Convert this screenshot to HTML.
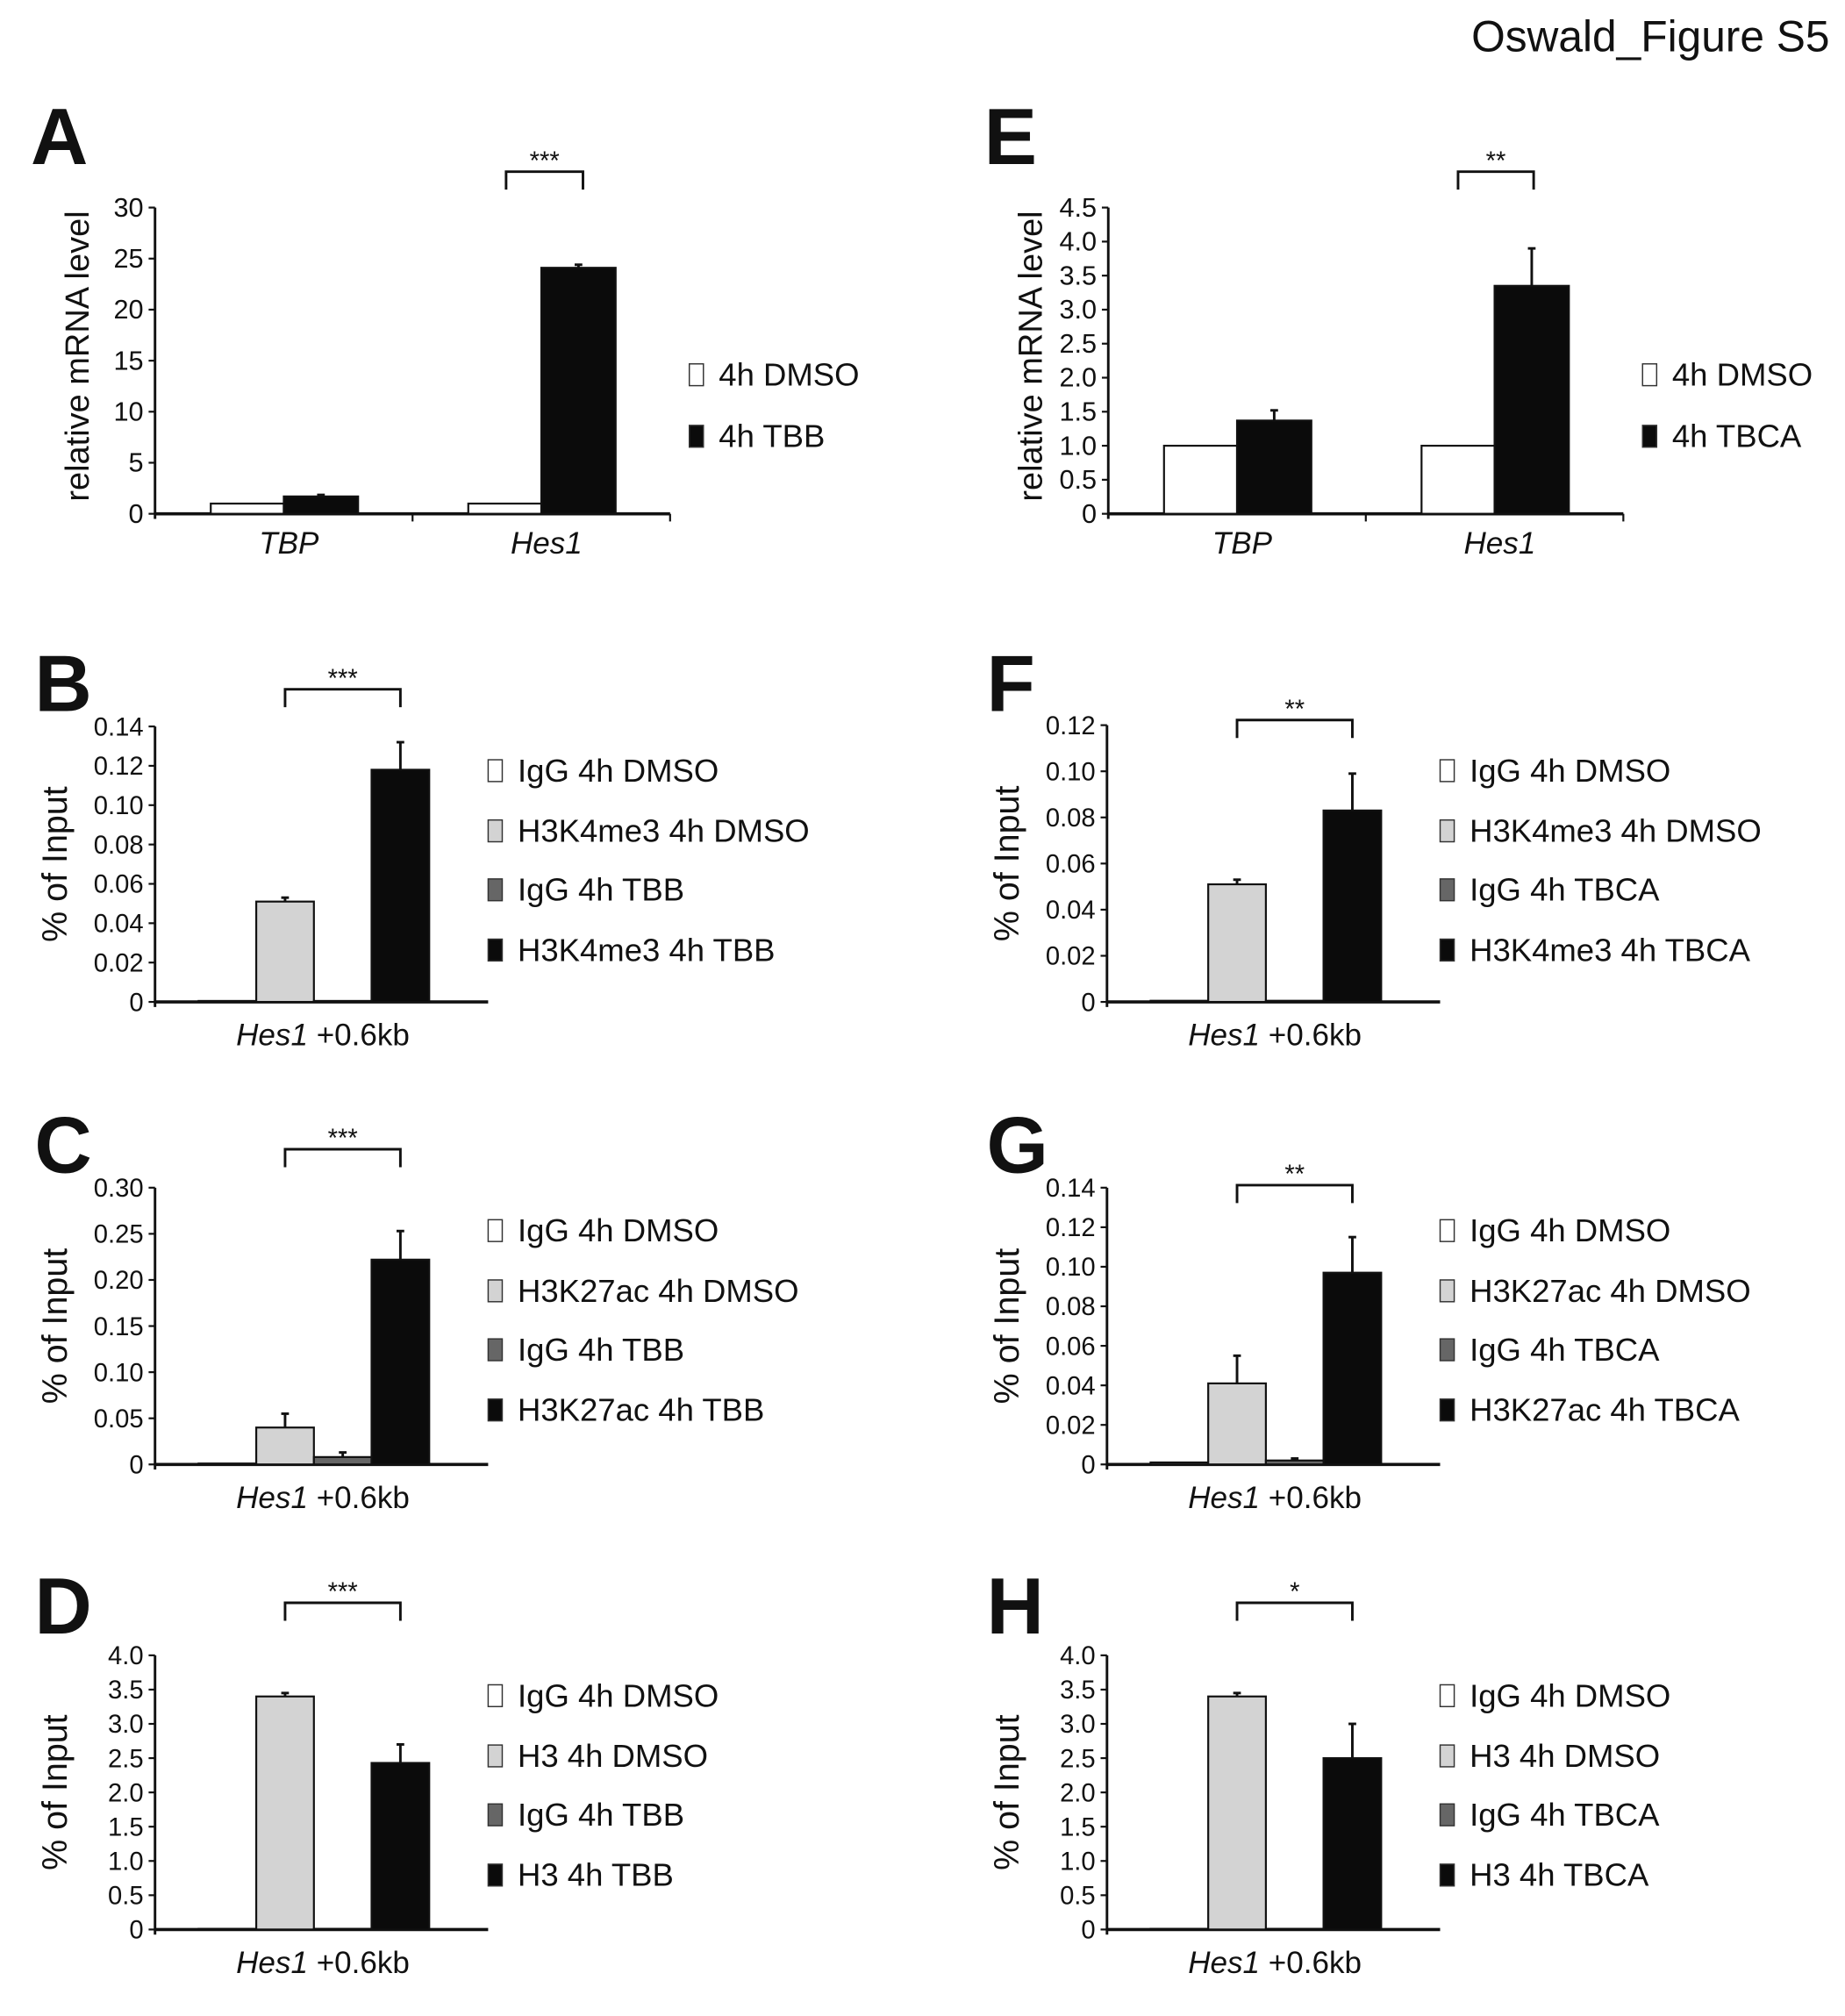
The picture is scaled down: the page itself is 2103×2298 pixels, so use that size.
<!DOCTYPE html>
<html><head><meta charset="utf-8"><style>
html,body{margin:0;padding:0;background:#fff}
svg{display:block}
text{font-family:"Liberation Sans Narrow","Liberation Sans",sans-serif;fill:#111}
</style></head><body>
<svg id="fig" width="2103" height="2298" viewBox="0 0 1440 1573.5" xmlns="http://www.w3.org/2000/svg">
<text x="1428" y="40" text-anchor="end" font-size="34" style="font-family:'Liberation Sans',sans-serif">Oswald_Figure S5</text>
</svg>
<script>
// ---- data arrays ----
const aCategories = ["TBP","Hes1"];
const aDmso = [1.0, 1.0];
const aTreat = [1.7, 24.1];
const aTreatErr = [0.15, 0.3];
const aTicks = ["0","5","10","15","20","25","30"];

const eCategories = ["TBP","Hes1"];
const eDmso = [1.0, 1.0];
const eTreat = [1.37, 3.35];
const eTreatErr = [0.15, 0.55];
const eTicks = ["0","0.5","1.0","1.5","2.0","2.5","3.0","3.5","4.0","4.5"];

const bValues = [0.0005, 0.051, 0.0005, 0.118];
const bErr = [0, 0.002, 0, 0.014];
const bTicks = ["0","0.02","0.04","0.06","0.08","0.10","0.12","0.14"];
const bLegend = ["IgG 4h DMSO","H3K4me3 4h DMSO","IgG 4h TBB","H3K4me3 4h TBB"];

const fValues = [0.0005, 0.051, 0.0005, 0.083];
const fErr = [0, 0.002, 0, 0.016];
const fTicks = ["0","0.02","0.04","0.06","0.08","0.10","0.12"];
const fLegend = ["IgG 4h DMSO","H3K4me3 4h DMSO","IgG 4h TBCA","H3K4me3 4h TBCA"];

const cValues = [0.001, 0.040, 0.008, 0.222];
const cErr = [0, 0.015, 0.005, 0.031];
const cTicks = ["0","0.05","0.10","0.15","0.20","0.25","0.30"];
const cLegend = ["IgG 4h DMSO","H3K27ac 4h DMSO","IgG 4h TBB","H3K27ac 4h TBB"];

const gValues = [0.001, 0.041, 0.002, 0.097];
const gErr = [0, 0.014, 0.001, 0.018];
const gTicks = ["0","0.02","0.04","0.06","0.08","0.10","0.12","0.14"];
const gLegend = ["IgG 4h DMSO","H3K27ac 4h DMSO","IgG 4h TBCA","H3K27ac 4h TBCA"];

const dValues = [0.01, 3.40, 0.01, 2.43];
const dErr = [0, 0.05, 0, 0.27];
const dTicks = ["0","0.5","1.0","1.5","2.0","2.5","3.0","3.5","4.0"];
const dLegend = ["IgG 4h DMSO","H3 4h DMSO","IgG 4h TBB","H3 4h TBB"];

const hValues = [0.01, 3.40, 0.01, 2.50];
const hErr = [0, 0.05, 0, 0.50];
const hTicks = ["0","0.5","1.0","1.5","2.0","2.5","3.0","3.5","4.0"];
const hLegend = ["IgG 4h DMSO","H3 4h DMSO","IgG 4h TBCA","H3 4h TBCA"];

const fills = ["#ffffff","#d3d3d3","#666666","#0b0b0b"];
// ---- rendering ----
const svg = document.getElementById('fig');
const NS = "http://www.w3.org/2000/svg";
function mk(tag, attrs, parent){
  const e = document.createElementNS(NS, tag);
  for (const k in attrs) e.setAttribute(k, attrs[k]);
  (parent||svg).appendChild(e);
  return e;
}
function txt(s, attrs, parent){ const e = mk('text', attrs, parent); e.textContent = s; return e; }

function axes(g, x0, x1, yTop, yZero, ticks, fs){
  const max = parseFloat(ticks[ticks.length-1]);
  const y = v => yZero - v / max * (yZero - yTop);
  const ya = mk('line',{x1:x0,y1:yTop,x2:x0,y2:yZero+4,stroke:'#111','stroke-width':2},g);
  
  
  const xa = mk('line',{x1:x0,y1:yZero,x2:x1,y2:yZero,stroke:'#111','stroke-width':2.5},g);
  
  
  ticks.forEach(t=>{
    const v = parseFloat(t);
    mk('line',{x1:x0-5,y1:y(v),x2:x0,y2:y(v),stroke:'#111','stroke-width':1.5},g);
    const tl = txt(t,{x:x0-9,y:y(v)+7,'text-anchor':'end','font-size':fs},g);
    
    
  });
  return y;
}
function bar(g, xl, xr, y, yZero, v, err, fill){
  const r = mk('rect',{x:xl,y:y(v),width:xr-xl,height:Math.max(yZero-y(v),0.5),fill:fill,stroke:'#111','stroke-width':1.5},g);
  
  
  if (err>0){
    const xc=(xl+xr)/2;
    mk('line',{x1:xc,y1:y(v),x2:xc,y2:y(v+err),stroke:'#111','stroke-width':2},g);
    mk('line',{x1:xc-3,y1:y(v+err),x2:xc+3,y2:y(v+err),stroke:'#111','stroke-width':2},g);
  }
}
function bracket(g, xa, xb, yb, stars){
  const p = mk('path',{d:`M${xa} ${yb+14}V${yb}H${xb}V${yb+14}`,fill:'none',stroke:'#111','stroke-width':2},g);
  
  
  const s = txt(stars,{x:(xa+xb)/2,y:yb-2,'text-anchor':'middle','font-size':20},g);
  
  
}
function letter(ch, x, y){
  const t = txt(ch,{x:x,y:y,'font-size':62,'font-weight':'bold',style:"font-family:'Liberation Sans',sans-serif"});
  
  
}
function ytitle(g, s, x, yc, fs){
  const t = txt(s,{x:x,y:yc,'text-anchor':'middle','font-size':fs,transform:`rotate(-90 ${x} ${yc})`,style:"font-family:'Liberation Sans',sans-serif"},g);
  
  
}
function legend(g, labels, cols, x, ys){
  labels.forEach((l,i)=>{
    const le = mk('g',{},g);
    
    
    mk('rect',{x:x,y:ys[i]-17,width:11,height:17,fill:cols[i],stroke:'#333','stroke-width':1},le);
    txt(l,{x:x+23,y:ys[i],'font-size':25,style:"font-family:'Liberation Sans',sans-serif"},le);
  });
}
function xlabel(g, xc, yb){
  const t = mk('text',{x:xc,y:yb,'text-anchor':'middle','font-size':24,style:"font-family:'Liberation Sans',sans-serif"},g);
  
  
  const a = document.createElementNS(NS,'tspan'); a.setAttribute('font-style','italic'); a.textContent='Hes1'; t.appendChild(a);
  const b = document.createElementNS(NS,'tspan'); b.textContent=' +0.6kb'; t.appendChild(b);
}

// Panels A / E
function mrna(name, L, x0, cats, dm, tr, te, ticks, legendLabels, stars, brX){
  const g = mk('g',{});  
  const yTop=162, yZero=401, w=402;
  const y = axes(g, x0, x0+w, yTop, yZero, ticks, 21);
  mk('line',{x1:x0+w/2,y1:yZero,x2:x0+w/2,y2:yZero+6,stroke:'#111','stroke-width':1.5},g);
  mk('line',{x1:x0+w,y1:yZero,x2:x0+w,y2:yZero+6,stroke:'#111','stroke-width':1.5},g);
  cats.forEach((c,i)=>{
    const xc = x0 + w/4 + i*w/2;
    bar(g, xc-57, xc, y, yZero, dm[i], 0, '#fff');
    bar(g, xc, xc+58, y, yZero, tr[i], te[i], '#0b0b0b');
    const cl = txt(c,{x:xc+4,y:432,'text-anchor':'middle','font-size':24,'font-style':'italic',style:"font-family:'Liberation Sans',sans-serif"},g);
    
    
  });
  bracket(g, brX[0], brX[1], 134, stars);
  ytitle(g,'relative mRNA level', x0-52, 278, 26);
  legend(g, legendLabels, ['#fff','#0b0b0b'], x0+417, [301,349]);
  letter(L, x0-97, 128);
}
mrna('a','A',121,aCategories,aDmso,aTreat,aTreatErr,aTicks,['4h DMSO','4h TBB'],'***',[395,455]);
mrna('e','E',865,eCategories,eDmso,eTreat,eTreatErr,eTicks,['4h DMSO','4h TBCA'],'**',[1138,1197]);

// Panels B,C,D,F,G,H
function chip(name, L, x0, yTop, yZero, vals, errs, ticks, labels, stars, brY, legY0, letY){
  const g = mk('g',{});  
  const y = axes(g, x0, x0+260, yTop, yZero, ticks, 20);
  vals.forEach((v,i)=>{
    const xl = x0 + 34 + i*45;
    bar(g, xl, xl+45, y, yZero, v, errs[i], fills[i]);
  });
  const c1 = x0+34+45*1.5, c3 = x0+34+45*3.5;
  bracket(g, c1, c3, brY, stars);
  xlabel(g, x0+131, yZero+34);
  ytitle(g,'% of Input', x0-69, (yTop+yZero)/2, 27);
  legend(g, labels, fills, x0+260, [legY0, legY0+47, legY0+93, legY0+140]);
  letter(L, x0-94, letY);
}
chip('b','B',121,567,782,bValues,bErr,bTicks,bLegend,'***',538,610,555);
chip('f','F',864,566,782,fValues,fErr,fTicks,fLegend,'**',562,610,555);
chip('c','C',121,927,1143,cValues,cErr,cTicks,cLegend,'***',897,969,915);
chip('g','G',864,927,1143,gValues,gErr,gTicks,gLegend,'**',925,969,915);
chip('d','D',121,1292,1506,dValues,dErr,dTicks,dLegend,'***',1251,1332,1275);
chip('h','H',864,1292,1506,hValues,hErr,hTicks,hLegend,'*',1251,1332,1275);
</script>
</body></html>
